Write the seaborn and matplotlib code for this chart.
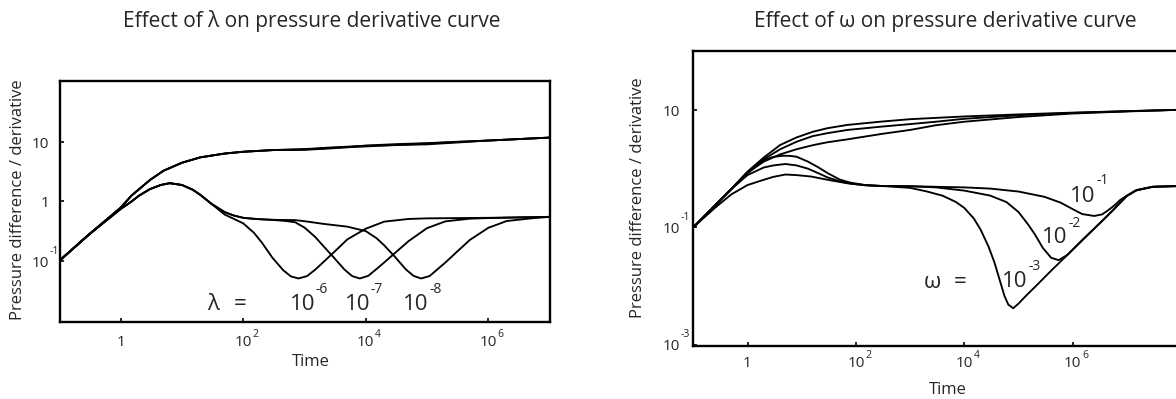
import numpy as np
import pandas as pd
import matplotlib
matplotlib.use("Agg")
import matplotlib.pyplot as plt
import seaborn as sns
from matplotlib.ticker import NullLocator
from matplotlib.transforms import offset_copy

sns.set_theme(style="white")
plt.rcParams["font.family"] = ["Open Sans", "DejaVu Sans"]

# ---------------- LEFT PANEL (effect of lambda) ----------------
lam_p_early_t = [0.1, 0.3, 1.0, 1.5, 2, 3, 5, 10, 20, 50, 100, 300]
lam_p_early_v = [0.1, 0.275, 0.79, 1.26, 1.62, 2.31, 3.31, 4.52, 5.57, 6.46, 6.92, 7.38]
lam_p_late_t = [1e3, 3e3, 1e4, 3e4, 1e5, 3e5, 1e6, 1e7]
lam_p6_late_v = [7.45, 7.94, 8.81, 9.29, 9.66, 10.2, 10.7, 12.0]
lam_p7_late_v = [7.59, 8.04, 8.51, 9.02, 9.55, 10.1, 10.7, 12.0]
lam_p8_late_v = [7.67, 8.22, 8.71, 8.95, 9.23, 9.89, 10.7, 12.0]

lam_d_early_t = [0.1, 0.3, 1.0, 1.5, 2, 3, 4.5, 6.3, 10, 15, 20, 30]
lam_d_early_v = [0.1, 0.275, 0.75, 1.0, 1.26, 1.62, 1.9, 2.04, 1.9, 1.58, 1.29, 0.92]
lam_d_upper_t = [50, 70, 100, 150, 200, 300]
lam_d_upper_v = [0.66, 0.58, 0.53, 0.51, 0.50, 0.49]

lam6_t = [50, 70, 100, 150, 200, 300, 450, 600, 800, 1100, 1500, 2000, 3000, 5000,
          1e4, 2e4, 5e4, 1e5, 1e6, 1e7]
lam6_v = [0.60, 0.51, 0.427, 0.295, 0.204, 0.112, 0.069, 0.0543, 0.0501, 0.055, 0.0708,
          0.0933, 0.138, 0.229, 0.347, 0.457, 0.507, 0.519, 0.53, 0.55]
lam7_t = [500, 700, 1000, 1500, 2000, 3000, 4500, 6000, 8000, 1.1e4, 1.5e4, 2e4, 3e4,
          5e4, 1e5, 2e5, 5e5, 1e6, 1e7]
lam7_v = [0.468, 0.447, 0.363, 0.251, 0.18, 0.1135, 0.0708, 0.055, 0.0501, 0.0556, 0.0724,
          0.0933, 0.135, 0.214, 0.355, 0.462, 0.513, 0.525, 0.55]
lam8_t = [700, 1000, 2000, 5000, 1e4, 1.5e4, 2e4, 3e4, 4.5e4, 6e4, 8e4, 1.1e5, 1.5e5,
          2e5, 3e5, 5e5, 1e6, 2e6, 5e6, 1e7]
lam8_v = [0.485, 0.465, 0.42, 0.376, 0.316, 0.24, 0.182, 0.116, 0.0716, 0.0556, 0.0501,
          0.055, 0.0724, 0.0933, 0.138, 0.224, 0.359, 0.468, 0.519, 0.55]

# ---------------- RIGHT PANEL (effect of omega) ----------------
om_start_t = [0.1, 0.25, 0.5]
om_start_v = [0.1, 0.234, 0.447]
om_pA_t = [1, 2, 4, 8, 16, 30, 70, 300, 1e3, 1e4, 1e5, 1e6, 1e7, 1e8, 2.5e8]
om_pA_v = [0.89, 1.55, 2.53, 3.4, 4.25, 4.9, 5.57, 6.35, 6.97, 7.76, 8.41, 9.02, 9.55, 10.1, 10.35]
om_pB_t = [1, 2, 4, 8, 16, 30, 70, 300, 1e3, 3e3, 1e4, 1e5, 1e6, 1e7, 1e8, 2.5e8]
om_pB_v = [0.87, 1.445, 2.14, 2.87, 3.59, 4.03, 4.57, 5.21, 5.75, 6.31, 7.08, 8.13, 8.91, 9.55, 10.1, 10.35]
om_pC_t = [1, 2, 4, 8, 16, 30, 70, 300, 1e3, 3e3, 1e4, 1e5, 1e6, 1e7, 1e8, 2.5e8]
om_pC_v = [0.85, 1.32, 1.75, 2.14, 2.51, 2.82, 3.16, 3.91, 4.57, 5.5, 6.31, 7.59, 8.71, 9.44, 10.1, 10.35]

om_dtop_t = [1, 2, 3, 4.5, 6, 8, 13, 20, 30, 50, 80, 150, 300]
om_dtop_v = [0.83, 1.41, 1.585, 1.66, 1.65, 1.6, 1.32, 1.06, 0.84, 0.653, 0.575, 0.525, 0.506]
om_dmid_t = [1, 2, 3, 5, 8, 13, 20, 30, 50, 80, 150, 300]
om_dmid_v = [0.776, 1.047, 1.135, 1.2, 1.135, 1.0, 0.84, 0.708, 0.61, 0.556, 0.521, 0.506]
om_dlow_t = [0.1, 0.25, 0.5, 1, 2, 3, 5, 8, 15, 30, 70, 150, 300]
om_dlow_v = [0.1, 0.214, 0.363, 0.525, 0.646, 0.724, 0.794, 0.776, 0.733, 0.646, 0.562, 0.521, 0.506]

om1_t = [1e3, 1e4, 3e4, 1e5, 3e5, 6e5, 1e6, 1.5e6, 2.5e6, 3.5e6, 4.5e6, 6e6, 7.5e6, 1e7,
         1.5e7, 3e7, 1e8, 2.5e8]
om1_v = [0.501, 0.479, 0.457, 0.407, 0.331, 0.263, 0.204, 0.168, 0.156, 0.166, 0.195, 0.24,
         0.292, 0.347, 0.432, 0.492, 0.506, 0.51]
om2_t = [1e3, 3e3, 1e4, 3e4, 6e4, 1e5, 1.5e5, 2e5, 2.8e5, 4e5, 5.5e5, 8e5]
om2_v = [0.501, 0.479, 0.422, 0.347, 0.269, 0.182, 0.112, 0.0759, 0.0447, 0.0302, 0.0275, 0.0339]
om3_t = [1e3, 2e3, 4e3, 7e3, 1e4, 1.5e4, 2e4, 2.8e4, 3.6e4, 4.5e4, 5.5e4, 6.5e4, 8e4, 1e5]
om3_v = [0.47, 0.41, 0.345, 0.27, 0.214, 0.141, 0.0912, 0.0468, 0.0251, 0.0126, 0.00676,
         0.00479, 0.00417, 0.0050]
om_line_t = [1.4e5, 2e5, 4e5, 8e5, 1.5e6, 3e6, 5e6, 7e6, 1e7, 1.5e7, 3e7, 1e8, 2.5e8]
om_line_v = [0.00692, 0.00955, 0.0182, 0.0339, 0.0603, 0.112, 0.178, 0.245, 0.343, 0.427,
             0.49, 0.506, 0.51]

xtick_vals = [1, 1e2, 1e4, 1e6]
xtick_base = ["1", "10", "10", "10"]
xtick_exp = ["", "2", "4", "6"]
yL_vals = [10, 1, 0.1]
yL_base = ["10", "1", "10"]
yL_exp = ["", "", "-1"]
yR_vals = [10, 0.1, 0.001]
yR_base = ["10", "10", "10"]
yR_exp = ["", "-1", "-3"]


def tail_after(t, v, t0):
    return [a for a in t if a > t0], [b for a, b in zip(t, v) if a > t0]


def build(curves):
    rows = []
    for name, (t, v) in curves.items():
        for a, b in zip(t, v):
            rows.append((name, a, b))
    return pd.DataFrame(rows, columns=["curve", "time", "value"])


left_curves = {
    "p6": (lam_p_early_t + lam_p_late_t, lam_p_early_v + lam_p6_late_v),
    "p7": (lam_p_early_t + lam_p_late_t, lam_p_early_v + lam_p7_late_v),
    "p8": (lam_p_early_t + lam_p_late_t, lam_p_early_v + lam_p8_late_v),
    "d6": (lam_d_early_t + lam6_t, lam_d_early_v + lam6_v),
    "d7": (lam_d_early_t + lam_d_upper_t[:-1] + [300] + lam7_t,
           lam_d_early_v + lam_d_upper_v[:-1] + [0.49] + lam7_v),
    "d8": (lam_d_early_t + lam_d_upper_t + lam8_t,
           lam_d_early_v + lam_d_upper_v + lam8_v),
}
dfL = build(left_curves)

l2t, l2v = tail_after(om_line_t, om_line_v, om2_t[-1])
l3t, l3v = tail_after(om_line_t, om_line_v, om3_t[-1])
right_curves = {
    "pA": (om_start_t + om_pA_t, om_start_v + om_pA_v),
    "pB": (om_start_t + om_pB_t, om_start_v + om_pB_v),
    "pC": (om_start_t + om_pC_t, om_start_v + om_pC_v),
    "d1": (om_start_t + om_dtop_t + om1_t, om_start_v + om_dtop_v + om1_v),
    "d2": (om_start_t + om_dmid_t + om2_t + l2t, om_start_v + om_dmid_v + om2_v + l2v),
    "d3": (om_dlow_t + om3_t + l3t, om_dlow_v + om3_v + l3v),
}
dfR = build(right_curves)

W, H = 1176, 399
fig = plt.figure(figsize=(W / 100, H / 100), dpi=100)
fig.patch.set_facecolor("white")
axL = fig.add_axes([59.5 / W, 1 - 321.7 / H, 490 / W, 240.7 / H])
axR = fig.add_axes([693.3 / W, 1 - 345.7 / H, 509.5 / W, 295 / H])

for ax in (axL, axR):
    ax.set_xscale("log")
    ax.set_yscale("log")
    ax.set_facecolor("white")

sns.lineplot(data=dfL, x="time", y="value", units="curve", estimator=None,
             color="black", linewidth=1.35, ax=axL, legend=False)
sns.lineplot(data=dfR, x="time", y="value", units="curve", estimator=None,
             color="black", linewidth=1.35, ax=axR, legend=False)

axL.set_xlim(0.1, 1e7)
axL.set_ylim(10 ** -2.03, 10 ** 2.035)
axR.set_xlim(0.1, 10 ** 8.4)
axR.set_ylim(10 ** -3.019, 10 ** 2.011)

for ax, yv in ((axL, yL_vals), (axR, yR_vals)):
    ax.set_xticks(xtick_vals)
    ax.set_yticks(yv)
    ax.xaxis.set_minor_locator(NullLocator())
    ax.yaxis.set_minor_locator(NullLocator())
    ax.tick_params(direction="in", length=3.2, width=1.2, color="black",
                   labelbottom=False, labelleft=False, bottom=True, left=True)
    for s in ax.spines.values():
        s.set_linewidth(1.7)
        s.set_color("black")
        s.set_visible(True)
    ax.set_xlabel("")
    ax.set_ylabel("")
    ax.grid(False)

pending = []


def xlabels(ax, gap):
    for v, b, e in zip(xtick_vals, xtick_base, xtick_exp):
        tr = offset_copy(ax.get_xaxis_transform(), fig=fig, x=0, y=-gap, units="dots")
        t = ax.text(v, 0, b, transform=tr, ha="center", va="baseline", fontsize=11)
        if e:
            pending.append((t, e, 9))


def ylabels(ax, vals, bases, exps, gap):
    for v, b, e in zip(vals, bases, exps):
        tr = offset_copy(ax.get_yaxis_transform(), fig=fig, x=-gap, y=-5.8, units="dots")
        t = ax.text(0, v, b, transform=tr, ha="right", va="baseline", fontsize=11)
        if e:
            pending.append((t, e, 13))


xlabels(axL, 24)
xlabels(axR, 21)
ylabels(axL, yL_vals, yL_base, yL_exp, 10.5)
ylabels(axR, yR_vals, yR_base, yR_exp, 13.5)

fig.canvas.draw()
renderer = fig.canvas.get_renderer()
for t, e, rz in pending:
    bb = t.get_window_extent(renderer)
    xb, yb = t.get_transform().transform(t.get_position())
    fig.text((bb.x1 + 0.5) / W, (yb + rz) / H, e, ha="left", va="baseline", fontsize=7.5)


def sup_text(ax, x, y, base, exp, size=16, esize=10, raise_px=17):
    ax.text(x, y, base, ha="right", va="baseline", fontsize=size)
    tr = offset_copy(ax.transData, fig=fig, x=1, y=raise_px, units="dots")
    ax.text(x, y, exp, transform=tr, ha="left", va="baseline", fontsize=esize)


# annotations, left
axL.text(32.4, 0.0147, "λ", ha="center", va="baseline", fontsize=16)
axL.text(87.5, 0.0147, "=", ha="center", va="baseline", fontsize=16)
sup_text(axL, 1483, 0.0147, "10", "-6")
sup_text(axL, 11720, 0.0147, "10", "-7")
sup_text(axL, 105000, 0.0147, "10", "-8")

# annotations, right
axR.text(2590, 0.00912, "ω", ha="center", va="baseline", fontsize=16)
axR.text(8340, 0.00912, "=", ha="center", va="baseline", fontsize=16)
sup_text(axR, 2.58e6, 0.270, "10", "-1", raise_px=18)
sup_text(axR, 7.85e5, 0.0540, "10", "-2", raise_px=16)
sup_text(axR, 1.435e5, 0.00959, "10", "-3", raise_px=17)

# titles and axis labels
fig.text(311.5 / W, 1 - 26.5 / H, "Effect of λ on pressure derivative curve",
         ha="center", va="baseline", fontsize=15)
fig.text(945.5 / W, 1 - 26.5 / H, "Effect of ω on pressure derivative curve",
         ha="center", va="baseline", fontsize=15)
fig.text(18.3 / W, 1 - 200 / H, "Pressure difference / derivative", rotation=90,
         ha="center", va="center", fontsize=12)
fig.text(638 / W, 1 - 198 / H, "Pressure difference / derivative", rotation=90,
         ha="center", va="center", fontsize=12)
fig.text(311 / W, 1 - 366.5 / H, "Time", ha="center", va="baseline", fontsize=12)
fig.text(948 / W, 1 - 393.5 / H, "Time", ha="center", va="baseline", fontsize=12)

fig.savefig("out.png", dpi=100, facecolor="white")
